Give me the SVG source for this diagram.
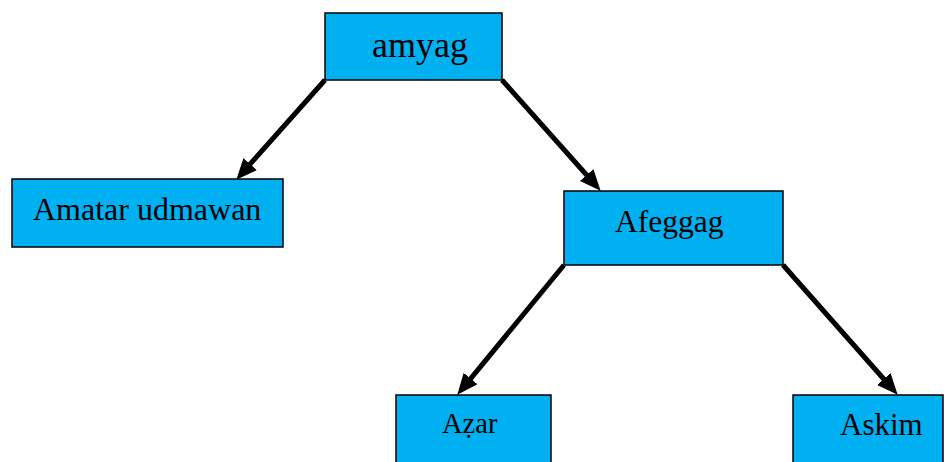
<svg xmlns="http://www.w3.org/2000/svg" width="944" height="462" viewBox="0 0 944 462">
<style>
.box{fill:#00B0F0;stroke:#000;stroke-width:1.5}
.lbl{font-family:"Liberation Serif","Times New Roman",serif;fill:#000}
.edge{stroke:#000;stroke-width:5;fill:none}
</style>
<defs>
<marker id="ah" markerUnits="userSpaceOnUse" markerWidth="22" markerHeight="20" refX="10" refY="9" orient="auto" viewBox="0 0 22 20">
<path d="M0,0 L21,9 L0,18 z" fill="#000"/>
</marker>
</defs>
<rect width="944" height="462" fill="#fff"/>
<g id="connectors">
<line class="edge" x1="325" y1="80" x2="243.6" y2="171.5" marker-end="url(#ah)"/>
<line class="edge" x1="502" y1="80" x2="593.3" y2="182.5" marker-end="url(#ah)"/>
<line class="edge" x1="564" y1="265" x2="464.3" y2="386.3" marker-end="url(#ah)"/>
<line class="edge" x1="783" y1="265" x2="890.4" y2="386.5" marker-end="url(#ah)"/>
</g>
<g id="amyag">
<rect class="box" x="325" y="13" width="177" height="67"/>
<text class="lbl" x="372" y="57" font-size="36">amyag</text>
</g>
<g id="amatar-udmawan">
<rect class="box" x="12" y="179" width="271" height="68"/>
<text class="lbl" x="33" y="220" font-size="32">Amatar udmawan</text>
</g>
<g id="afeggag">
<rect class="box" x="564" y="191" width="219" height="74"/>
<text class="lbl" x="615" y="232" font-size="31.5">Afeggag</text>
</g>
<g id="azar">
<rect class="box" x="396" y="395" width="155" height="80"/>
<text class="lbl" x="442" y="433" font-size="28.5">Aẓar</text>
</g>
<g id="askim">
<rect class="box" x="793" y="395" width="150" height="80"/>
<text class="lbl" x="840" y="435" font-size="31">Askim</text>
</g>
</svg>
